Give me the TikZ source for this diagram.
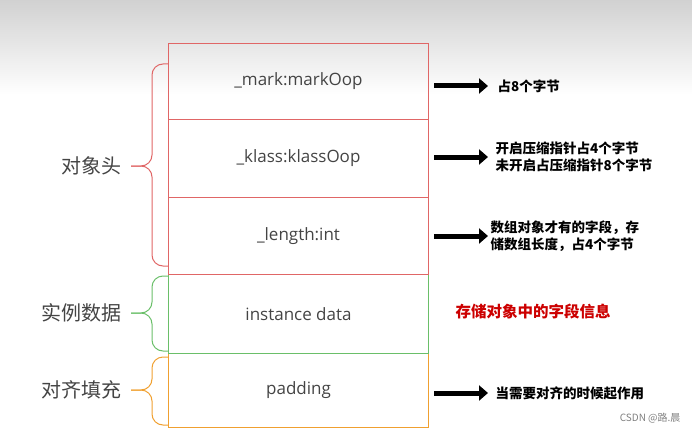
\documentclass[tikz,border=0pt]{standalone}
\usepackage{fontspec}
\setmainfont{Open Sans}
\newfontfamily\cjk{Noto Sans CJK SC}
\usetikzlibrary{arrows.meta}
\definecolor{rd}{HTML}{E06666}
\definecolor{gn}{HTML}{6ABF69}
\definecolor{og}{HTML}{F0A030}
\definecolor{tx}{HTML}{444444}
\begin{document}
\begin{tikzpicture}[x=1pt,y=-1pt,
  cell/.style={draw=#1,line width=1pt,minimum width=260pt,anchor=north west,inner sep=0pt,text=tx,font=\fontsize{17}{20}\selectfont},
  brace/.style={draw=#1,line width=1pt,rounded corners=11pt},
  lab/.style={text=tx,font=\cjk\fontsize{20}{24}\selectfont},
  big/.style={line width=5pt,-{Triangle[length=9pt,width=15pt]}},
  note/.style={anchor=west,font=\cjk\bfseries\fontsize{13.5}{17}\selectfont,align=left}]
\useasboundingbox (0,0) rectangle (692,433);
\shade[top color=black!18,bottom color=white] (0,0) rectangle (692,95);
\node[cell=og,minimum height=74pt] (p) at (168,353) {padding};
\node[cell=gn,minimum height=79pt] (i) at (168,274) {instance data};
\node[cell=rd,minimum height=76pt] (m) at (168,43) {\_mark:markOop};
\node[cell=rd,minimum height=78pt] (k) at (168,119) {\_klass:klassOop};
\node[cell=rd,minimum height=77pt] (l) at (168,197) {\_length:int};
\draw[brace=rd] (168,64)--(152,64)--(152,166)--(131,166);
\draw[brace=rd] (168,266)--(152,266)--(152,166)--(131,166);
\draw[brace=gn] (168,276)--(152,276)--(152,313)--(131,313);
\draw[brace=gn] (168,351)--(152,351)--(152,313)--(131,313);
\draw[brace=og] (168,357)--(152,357)--(152,390)--(131,390);
\draw[brace=og] (168,425)--(152,425)--(152,390)--(131,390);
\node[lab,anchor=east] (h) at (125,166) {对象头};
\node[lab,anchor=east] (d) at (125,313) {实例数据};
\node[lab,anchor=east] (f) at (125,390) {对齐填充};
\coordinate (a1) at (434,86); \coordinate (b1) at (488,86);
\coordinate (a2) at (434,157); \coordinate (b2) at (488,157);
\coordinate (a3) at (434,236); \coordinate (b3) at (488,236);
\coordinate (a4) at (434,393); \coordinate (b4) at (488,393);
\draw[big] (a1)--(b1); \draw[big] (a2)--(b2); \draw[big] (a3)--(b3); \draw[big] (a4)--(b4);
\node[note] (t1) at (494,86) {占8个字节};
\node[note] (t2) at (492,157) {开启压缩指针占4个字节\\未开启占压缩指针8个字节};
\node[note] (t3) at (487,236) {数组对象才有的字段，存\\储数组长度，占4个字节};
\node[note] (t4) at (492,393) {当需要对齐的时候起作用};
\node[note,text=red!80!black,font=\cjk\bfseries\fontsize{15.5}{18}\selectfont] (t5) at (452,312) {存储对象中的字段信息};
\node[anchor=east,text=gray,font=\cjk\fontsize{10}{12}\selectfont] (w) at (684,418) {CSDN @路.晨};
\end{tikzpicture}
\end{document}
